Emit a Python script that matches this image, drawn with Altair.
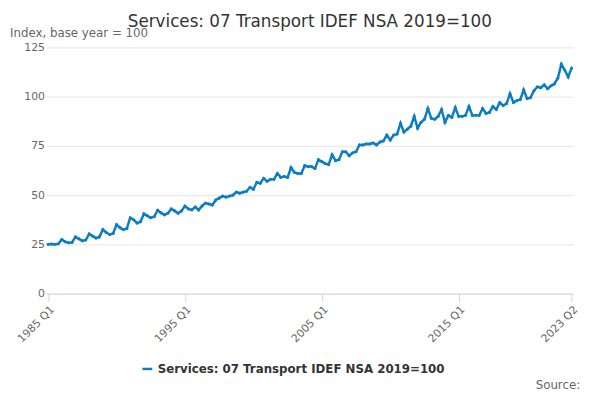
import altair as alt
import pandas as pd

years = list(range(1985, 2024))
values = [
    25.0, 25.2, 25.0, 25.3,
    27.5, 26.3, 25.8, 26.0,
    28.8, 27.8, 26.8, 27.2,
    30.3, 29.2, 28.2, 28.8,
    32.5, 31.0, 30.0, 30.5,
    35.0, 33.5, 32.5, 33.0,
    38.5, 37.5, 35.8, 36.5,
    40.5, 39.5, 38.5, 39.0,
    42.3, 41.0, 40.0, 40.8,
    43.0, 42.0, 40.8, 42.0,
    44.5, 43.0, 42.5, 44.0,
    42.5, 44.5, 46.0, 45.5,
    45.0, 47.5, 48.5, 49.5,
    49.0, 49.5, 50.0, 51.5,
    51.0, 51.5, 52.0, 54.0,
    53.0, 56.5, 56.0, 58.5,
    57.0, 58.0, 58.0, 61.0,
    59.0, 59.5, 59.0, 64.0,
    61.5, 61.0, 61.0, 65.0,
    64.5, 64.5, 63.5, 68.0,
    67.0, 66.0, 65.5, 70.5,
    67.5, 68.0, 72.0, 72.0,
    70.0, 71.5, 72.0, 75.5,
    75.5, 76.0, 76.0, 76.5,
    75.5, 77.0, 77.5, 80.5,
    78.0, 80.5, 81.0, 86.5,
    82.0, 83.5, 85.0, 90.0,
    84.0, 87.0, 88.5, 94.0,
    89.0, 88.5, 90.0, 93.5,
    87.0, 90.5, 89.5, 94.5,
    90.0, 90.0, 90.5, 95.0,
    90.5, 90.5, 90.5, 94.0,
    91.5, 92.0, 95.0, 93.5,
    97.0, 95.5, 96.5, 101.5,
    97.0, 98.0, 98.5, 103.5,
    99.0, 99.5, 103.0, 105.0,
    104.5, 106.0, 104.0, 105.5,
    106.5, 109.5, 116.5, 113.5,
    110.0, 114.5,
]
labels = [f"{y} Q{q}" for y in years for q in range(1, 5)][: len(values)]
df = pd.DataFrame({"t": labels, "v": values})
ticks = ["1985 Q1", "1995 Q1", "2005 Q1", "2015 Q1", "2023 Q2"]
name = "Services: 07 Transport IDEF NSA 2019=100"
df["s"] = name
F = "DejaVu Sans"

line = alt.Chart(df).mark_line(
    point=alt.OverlayMarkDef(size=10, filled=True), strokeWidth=2.5, color="#0b7dc3"
).encode(
    x=alt.X("t:O", sort=None, title=None,
            axis=alt.Axis(values=ticks, labelAngle=-45, labelColor="#666", labelFontSize=11,
                          labelFont=F, domainColor="#ccd6eb", tickColor="#ccd6eb", grid=False,
                          tickSize=8)),
    y=alt.Y("v:Q", scale=alt.Scale(domain=[0, 125]), title=None,
            axis=alt.Axis(values=[0, 25, 50, 75, 100, 125], labelColor="#666", labelFontSize=11,
                          labelFont=F, domain=False, ticks=False, gridColor="#e6e6e6")),
    color=alt.Color("s:N", scale=alt.Scale(range=["#0b7dc3"]),
                    legend=alt.Legend(title=None, orient="none", legendX=96, legendY=320,
                                      labelFontSize=12, labelFont=F,
                                      labelFontWeight="bold", labelColor="#333", symbolType="stroke",
                                      symbolStrokeWidth=2.5, labelLimit=400)),
)

source = alt.Chart(pd.DataFrame({"a": ["Source:"]})).mark_text(
    font=F, fontSize=12, color="#666", align="right", baseline="middle"
).encode(text="a:N", x=alt.value(542), y=alt.value(343))
ytitle = alt.Chart(pd.DataFrame({"a": ["Index, base year = 100"]})).mark_text(
    font=F, fontSize=12, color="#666", align="left", baseline="middle"
).encode(text="a:N", x=alt.value(-37), y=alt.value(-15))

chart = alt.layer(line, source, ytitle).properties(
    width=535, height=250,
    title=alt.TitleParams(name, fontSize=17, fontWeight=500, color="#333",
                          font=F, anchor="middle", offset=-4),
    padding={"left": 2, "right": 12, "top": 2, "bottom": 5},
).configure_view(stroke=None).configure_scale(bandPaddingInner=0, bandPaddingOuter=0)

chart.save("out.html", embed_options={"renderer": "svg", "actions": False})
